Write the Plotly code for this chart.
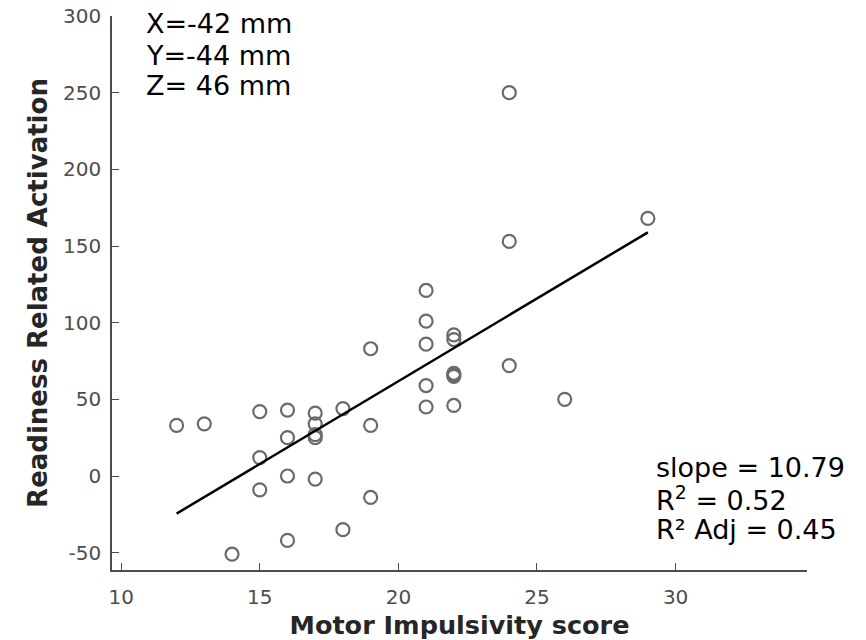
import plotly.graph_objects as go

# Motor impulsivity score per subject
motor_score = [12, 13, 14,
               15, 15, 15,
               16, 16, 16, 16,
               17, 17, 17, 17, 17,
               18, 18,
               19, 19, 19,
               21, 21, 21, 21, 21,
               22, 22, 22, 22, 22, 22,
               24, 24, 24,
               26, 29]

# Readiness-related activation per subject
activation = [33, 34, -51,
              42, 12, -9,
              43, 25, 0, -42,
              41, 34, 27, 25, -2,
              44, -35,
              83, 33, -14,
              121, 101, 86, 59, 45,
              92, 89, 67, 65, 66, 46,
              250, 153, 72,
              50, 168]

# Fitted regression line
slope = 10.79
intercept = -154.0
fit_x = [12, 29]
fit_y = [intercept + slope * x for x in fit_x]

coord_lines = ["X=-42 mm", "Y=-44 mm", "Z= 46 mm"]
stat_lines = ["slope = 10.79", "R<sup>2</sup> = 0.52", "R\u00b2 Adj = 0.45"]

x_ticks = [10, 15, 20, 25, 30]
y_ticks = [-50, 0, 50, 100, 150, 200, 250, 300]

FONT = "DejaVu Sans"
W, H = 866, 640
ML, MR, MT, MB = 112, 59, 16, 70
PW, PH = W - ML - MR, H - MT - MB

fig = go.Figure()
fig.add_trace(go.Scatter(
    x=motor_score, y=activation, mode="markers",
    marker=dict(symbol="circle-open", size=13, color="#6a6a6a",
                line=dict(width=2.2, color="#6a6a6a")),
    showlegend=False, hoverinfo="x+y",
))
fig.add_trace(go.Scatter(
    x=fit_x, y=fit_y, mode="lines",
    line=dict(color="black", width=2.5),
    showlegend=False,
))

axis_common = dict(
    showgrid=False, zeroline=False, showline=True, automargin=False,
    linecolor="#4d4d4d", linewidth=1.5,
    ticks="inside", ticklen=7, tickwidth=1.2, tickcolor="#4d4d4d",
    tickfont=dict(family=FONT, size=20, color="#4d4d4d"),
    mirror=False,
)

fig.update_layout(
    width=W, height=H, autosize=False,
    margin=dict(l=ML, r=MR, t=MT, b=MB, pad=0),
    plot_bgcolor="white", paper_bgcolor="white",
    font=dict(family=FONT),
    xaxis=dict(
        range=[9.67, 34.74], tickvals=x_ticks,
        ticktext=[str(v) for v in x_ticks], ticklabelstandoff=8,
        title=dict(text="<b>Motor Impulsivity score</b>",
                   font=dict(family=FONT, size=25.5, color="#262626"),
                   standoff=8),
        **axis_common,
    ),
    yaxis=dict(
        range=[-61.3, 300], tickvals=y_ticks,
        ticktext=[str(v) for v in y_ticks], ticklabelstandoff=5,
        title=dict(text="<b>Readiness Related Activation</b>",
                   font=dict(family=FONT, size=26, color="#262626"),
                   standoff=8),
        **axis_common,
    ),
)


def py_to_paper(py):
    return (H - MB - py) / PH


# Voxel coordinates, upper left
for text, cy in zip(coord_lines, [23.5, 55, 85]):
    fig.add_annotation(
        xref="paper", yref="paper", x=(144 - ML) / PW, y=py_to_paper(cy),
        xanchor="left", yanchor="middle", align="left", showarrow=False,
        text=text, font=dict(family=FONT, size=27, color="black"),
    )

# Regression statistics, lower right
for text, cy in zip(stat_lines, [467, 498, 529]):
    fig.add_annotation(
        xref="paper", yref="paper", x=(654 - ML) / PW, y=py_to_paper(cy),
        xanchor="left", yanchor="middle", align="left", showarrow=False,
        text=text, font=dict(family=FONT, size=27, color="black"),
    )

fig.write_html("out.html")
